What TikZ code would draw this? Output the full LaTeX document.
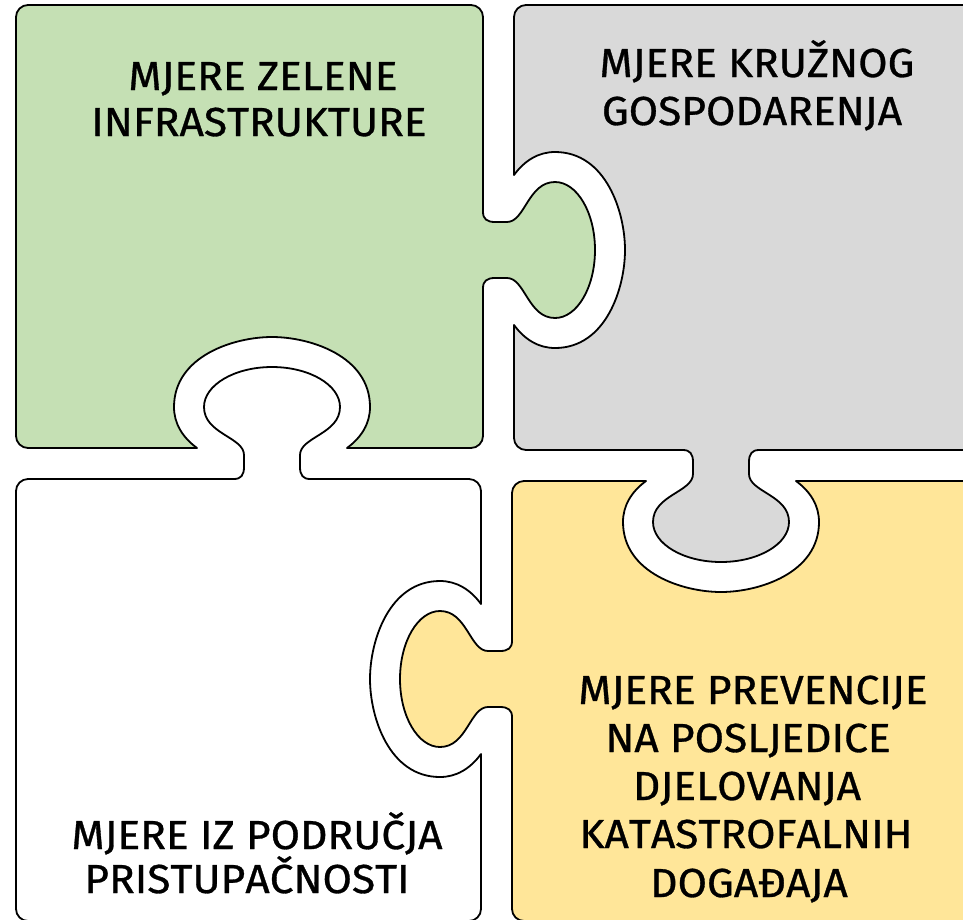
\documentclass[tikz,border=0pt]{standalone}
\usepackage{fontspec}
\setmainfont{Fira Sans}[FakeStretch=1.05, FakeBold=0.8, RawFeature={-calt;-liga;-kern}]
\definecolor{pgreen}{HTML}{C5E0B4}
\definecolor{pgray}{HTML}{D9D9D9}
\definecolor{pyellow}{HTML}{FFE699}
\newcommand\puzTab{-- (0,-38) .. controls (0,-31) and (4,-28) .. (12,-28) -- (24,-28) .. controls (42,-28) and (45,-68) .. (72,-68) .. controls (94,-68) and (112,-37.5) .. (112,0) .. controls (112,37.5) and (94,68) .. (72,68) .. controls (45,68) and (42,28) .. (24,28) -- (12,28) .. controls (4,28) and (0,31) .. (0,38)}
\newcommand\puzSock{-- (31,75) .. controls (42,90) and (56,98) .. (72,98) .. controls (123,98) and (142,38) .. (142,0) .. controls (142,-38) and (123,-98) .. (72,-98) .. controls (56,-98) and (42,-90) .. (31,-75)}
\tikzset{
  piece/.style={draw=black, line width=1.8pt, line join=round},
  lbl/.style={anchor=base, inner sep=0pt, font=\fontsize{40.5}{46}\selectfont, text=black}
}
\begin{document}
\begin{tikzpicture}[x=1pt,y=-1pt]
\useasboundingbox (0,0) rectangle (963,919);
\clip (0,0) rectangle (963,919);
% green piece
\draw[piece, fill=pgreen] (16,17) .. controls (16,10.4) and (21.4,5) .. (28,5) -- (471,5) .. controls (477.6,5) and (483,10.4) .. (483,17)
  {[shift={(483,250)}] \puzTab} -- (483,436) .. controls (483,442.6) and (477.6,448) .. (471,448)
  {[shift={(272,479)},rotate=90] \puzSock} -- (28,448) .. controls (21.4,448) and (16,442.6) .. (16,436) -- cycle;
% gray piece
\draw[piece, fill=pgray] (514,17) .. controls (514,10.4) and (519.4,5) .. (526,5) -- (990,5) -- (990,450)
  {[shift={(721,450)},rotate=-90] \puzTab} -- (526,450) .. controls (519.4,450) and (514,444.6) .. (514,438)
  {[shift={(483,250)}] \puzSock} -- cycle;
% white piece
\draw[piece, fill=white] (16,491) .. controls (16,484.4) and (21.4,479) .. (28,479)
  {[shift={(272,479)},rotate=90] \puzTab} -- (469,479) .. controls (475.6,479) and (481,484.4) .. (481,491)
  {[shift={(512,679)},rotate=180] \puzSock} -- (481,909) .. controls (481,915.6) and (475.6,921) .. (469,921) -- (28,921) .. controls (21.4,921) and (16,915.6) .. (16,909) -- cycle;
% yellow piece
\draw[piece, fill=pyellow] (512,493) .. controls (512,486.4) and (517.4,481) .. (524,481)
  {[shift={(721,450)},rotate=-90] \puzSock} -- (990,481) -- (990,921) -- (524,921) .. controls (517.4,921) and (512,915.6) .. (512,909)
  {[shift={(512,679)},rotate=180] \puzTab} -- cycle;
% labels
\node[lbl] (g1) at (263,90) {MJERE ZELENE};
\node[lbl] (g2) at (259,136) {INFRASTRUKTURE};
\node[lbl] (k1) at (757,77) {MJERE KRU\symbol{"017D}NOG};
\node[lbl] (k2) at (752,125) {GOSPODARENJA};
\node[lbl] (y1) at (753,704) {MJERE PREVENCIJE};
\node[lbl] (y2) at (748,752) {NA POSLJEDICE};
\node[lbl] (y3) at (747,800) {DJELOVANJA};
\node[lbl] (y4) at (746,848) {KATASTROFALNIH};
\node[lbl] (y5) at (749,897) {DOGA\symbol{"0110}AJA};
\node[lbl] (w1) at (257,849) {MJERE IZ PODRU\symbol{"010C}JA};
\node[lbl] (w2) at (247,893) {PRISTUPA\symbol{"010C}NOSTI};
\end{tikzpicture}
\end{document}
